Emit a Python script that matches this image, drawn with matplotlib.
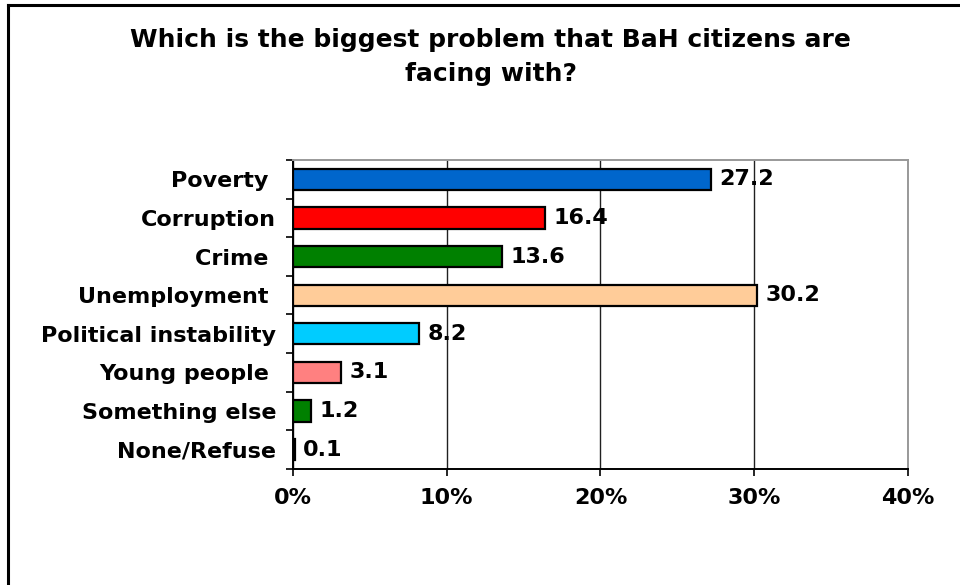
#!/usr/bin/env python3

import matplotlib
matplotlib.use("Agg")
import matplotlib.pyplot as plt
from matplotlib.lines import Line2D
from matplotlib.ticker import FixedLocator, PercentFormatter


TITLE = "Which is the biggest problem that BaH citizens are\nfacing with?"

CATEGORIES = [
    "Poverty ",
    "Corruption",
    "Crime ",
    "Unemployment ",
    "Political instability",
    "Young people ",
    "Something else",
    "None/Refuse",
]
VALUES = [27.2, 16.4, 13.6, 30.2, 8.2, 3.1, 1.2, 0.1]
BAR_COLORS = [
    "#0066CC",
    "#FF0000",
    "#008000",
    "#FFCC99",
    "#00CCFF",
    "#FF8080",
    "#008000",
    "#3366CC",
]
X_TICKS = [0, 10, 20, 30, 40]

FONT = "DejaVu Sans"
FONT_SIZE = 16
TITLE_SIZE = 18


def main():
    fig = plt.figure(figsize=(9.6, 5.85), dpi=100)
    ax = fig.add_axes([0.3052, 0.1983, 0.6406, 0.5282])

    ypos = list(range(len(CATEGORIES)))
    ax.barh(
        ypos,
        VALUES,
        height=0.55,
        color=BAR_COLORS,
        edgecolor="black",
        linewidth=1.6,
        zorder=3,
    )

    # Value labels just past the end of each bar.
    for y, v in zip(ypos, VALUES):
        ax.text(
            v + 0.55,
            y,
            f"{v:.1f}",
            va="center",
            ha="left",
            fontsize=FONT_SIZE,
            fontweight="bold",
            family=FONT,
            zorder=4,
        )

    ax.set_xlim(0, 40)
    ax.set_ylim(len(CATEGORIES) - 0.5, -0.5)

    ax.xaxis.set_major_locator(FixedLocator(X_TICKS))
    ax.xaxis.set_major_formatter(PercentFormatter(decimals=0))
    ax.grid(axis="x", color="#202020", linewidth=1.0, zorder=1)

    ax.set_yticks(ypos)
    ax.set_yticklabels(CATEGORIES)
    ax.tick_params(axis="y", which="major", length=0, pad=12)
    ax.yaxis.set_minor_locator(
        FixedLocator([i - 0.5 for i in range(len(CATEGORIES) + 1)])
    )
    ax.tick_params(axis="y", which="minor", length=5, width=1.2, color="black")
    ax.tick_params(axis="x", length=5, width=1.2, color="black", pad=9)

    for lbl in ax.get_xticklabels() + ax.get_yticklabels():
        lbl.set_fontsize(FONT_SIZE)
        lbl.set_fontweight("bold")
        lbl.set_family(FONT)

    ax.spines["left"].set_color("black")
    ax.spines["left"].set_linewidth(1.4)
    ax.spines["bottom"].set_color("black")
    ax.spines["bottom"].set_linewidth(1.4)
    ax.spines["top"].set_color("#999999")
    ax.spines["top"].set_linewidth(1.4)
    ax.spines["right"].set_color("#999999")
    ax.spines["right"].set_linewidth(1.4)

    fig.text(
        0.511,
        0.952,
        TITLE,
        ha="center",
        va="top",
        fontsize=TITLE_SIZE,
        fontweight="bold",
        family=FONT,
        linespacing=1.5,
    )

    # Chart frame: only the top and left edges fall inside the image.
    fig.add_artist(Line2D([0.0088, 1.0], [0.9915, 0.9915], color="black",
                          linewidth=2.2, transform=fig.transFigure))
    fig.add_artist(Line2D([0.0088, 0.0088], [0.0, 0.9915], color="black",
                          linewidth=2.2, transform=fig.transFigure))

    fig.savefig("out.png", dpi=100, facecolor="white")


if __name__ == "__main__":
    main()
